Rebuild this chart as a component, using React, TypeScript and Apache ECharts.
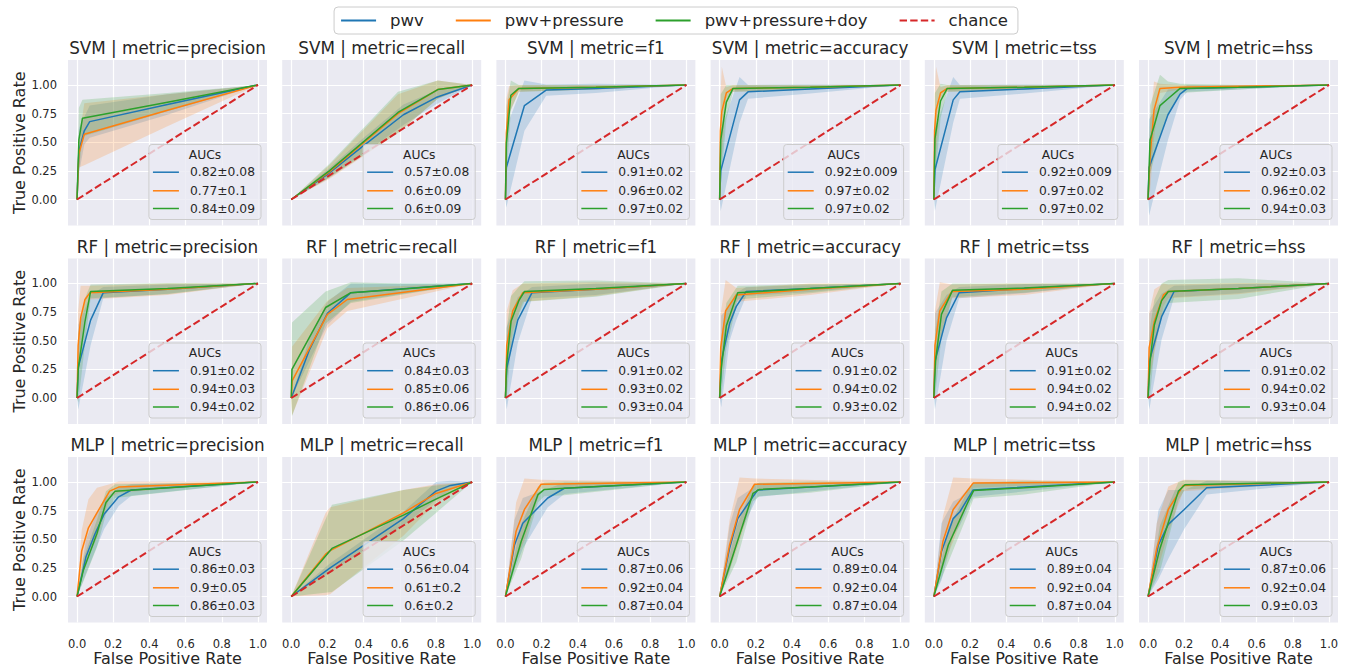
import React, { useEffect, useRef } from "react";
import * as echarts from "echarts";

// ---- labels ----
const models = ["SVM", "RF", "MLP"];
const metrics = ["precision", "recall", "f1", "accuracy", "tss", "hss"];
const featureSets = ["pwv", "pwv+pressure", "pwv+pressure+doy"];
const lineColors = ["#1f77b4", "#ff7f0e", "#2ca02c"];
const bandColors = ["rgba(31,119,180,0.2)", "rgba(255,127,14,0.2)", "rgba(44,160,44,0.2)"];
const chanceColor = "#d62728";
const xTicks = [0, 0.2, 0.4, 0.6, 0.8, 1.0];
const yTicks = [0, 0.25, 0.5, 0.75, 1.0];
const chanceLine = [[0, 0], [1, 1]];

// ---- mean ROC curves: [fpr, mean tpr, std] for pwv, pwv+pressure, pwv+pressure+doy ----
const svmPrecision = [
  [[0, 0, 0], [0.01, 0.42, 0.2], [0.04, 0.6, 0.12], [0.07, 0.68, 0.14], [0.5, 0.83, 0.09], [1, 1, 0]],
  [[0, 0, 0], [0.01, 0.4, 0.12], [0.04, 0.57, 0.27], [0.5, 0.78, 0.14], [1, 1, 0]],
  [[0, 0, 0], [0.01, 0.52, 0.28], [0.03, 0.71, 0.16], [0.5, 0.85, 0.08], [1, 1, 0]],
];
const svmRecall = [
  [[0, 0, 0], [0.2, 0.22, 0.04], [0.4, 0.47, 0.07], [0.62, 0.74, 0.09], [0.8, 0.89, 0.06], [1, 1, 0]],
  [[0, 0, 0], [0.21, 0.24, 0.06], [0.59, 0.75, 0.17], [0.81, 0.96, 0.08], [1, 1, 0]],
  [[0, 0, 0], [0.21, 0.25, 0.06], [0.59, 0.76, 0.18], [0.81, 0.96, 0.08], [1, 1, 0]],
];
const svmF1 = [
  [[0, 0, 0], [0.005, 0.28, 0.35], [0.105, 0.82, 0.22], [0.225, 0.955, 0.05], [0.5, 0.97, 0.04], [1, 1, 0]],
  [[0, 0, 0], [0.005, 0.58, 0.3], [0.02, 0.87, 0.12], [0.074, 0.97, 0.03], [0.5, 0.98, 0.02], [1, 1, 0]],
  [[0, 0, 0], [0.005, 0.49, 0.32], [0.03, 0.91, 0.13], [0.074, 0.97, 0.03], [0.5, 0.98, 0.02], [1, 1, 0]],
];
const svmAccuracy = [
  [[0, 0, 0], [0.006, 0.25, 0.35], [0.11, 0.87, 0.2], [0.157, 0.94, 0.06], [0.5, 0.965, 0.04], [1, 1, 0]],
  [[0, 0, 0], [0.004, 0.6, 0.3], [0.012, 0.77, 0.39], [0.037, 0.93, 0.05], [0.074, 0.97, 0.03], [0.5, 0.98, 0.02], [1, 1, 0]],
  [[0, 0, 0], [0.006, 0.52, 0.4], [0.037, 0.85, 0.15], [0.074, 0.97, 0.03], [0.5, 0.98, 0.02], [1, 1, 0]],
];
const svmTss = [
  [[0, 0, 0], [0.006, 0.26, 0.36], [0.107, 0.87, 0.2], [0.144, 0.94, 0.06], [0.5, 0.965, 0.04], [1, 1, 0]],
  [[0, 0, 0], [0.004, 0.6, 0.3], [0.012, 0.78, 0.38], [0.037, 0.93, 0.05], [0.074, 0.97, 0.03], [0.5, 0.98, 0.02], [1, 1, 0]],
  [[0, 0, 0], [0.006, 0.53, 0.4], [0.037, 0.86, 0.15], [0.074, 0.97, 0.03], [0.5, 0.98, 0.02], [1, 1, 0]],
];
const svmHss = [
  [[0, 0, 0], [0.006, 0.28, 0.42], [0.11, 0.74, 0.22], [0.177, 0.92, 0.05], [0.217, 0.97, 0.03], [0.5, 0.98, 0.02], [1, 1, 0]],
  [[0, 0, 0], [0.011, 0.37, 0.3], [0.033, 0.78, 0.25], [0.066, 0.97, 0.04], [0.177, 0.98, 0.02], [1, 1, 0]],
  [[0, 0, 0], [0.011, 0.52, 0.3], [0.066, 0.82, 0.27], [0.11, 0.88, 0.15], [0.177, 0.97, 0.04], [0.5, 0.98, 0.02], [1, 1, 0]],
];
const rfPrecision = [
  [[0, 0, 0], [0.007, 0.27, 0.37], [0.075, 0.68, 0.22], [0.145, 0.92, 0.05], [0.5, 0.95, 0.04], [1, 1, 0]],
  [[0, 0, 0], [0.006, 0.46, 0.3], [0.02, 0.7, 0.28], [0.044, 0.86, 0.12], [0.072, 0.92, 0.06], [0.5, 0.95, 0.05], [1, 1, 0]],
  [[0, 0, 0], [0.007, 0.26, 0.3], [0.044, 0.67, 0.2], [0.075, 0.93, 0.06], [0.5, 0.955, 0.05], [1, 1, 0]],
];
const rfRecall = [
  [[0, 0, 0], [0.1, 0.42, 0.1], [0.2, 0.74, 0.1], [0.33, 0.92, 0.08], [1, 1, 0]],
  [[0, 0, 0], [0.005, 0.15, 0.3], [0.2, 0.73, 0.12], [0.31, 0.86, 0.1], [1, 1, 0]],
  [[0, 0, 0], [0.004, 0.25, 0.41], [0.19, 0.79, 0.14], [0.33, 0.92, 0.09], [0.6, 0.95, 0.05], [1, 1, 0]],
];
const rfF1 = [
  [[0, 0, 0], [0.007, 0.26, 0.36], [0.068, 0.68, 0.2], [0.147, 0.92, 0.05], [0.5, 0.95, 0.05], [1, 1, 0]],
  [[0, 0, 0], [0.007, 0.46, 0.3], [0.04, 0.76, 0.18], [0.096, 0.92, 0.08], [0.5, 0.95, 0.06], [1, 1, 0]],
  [[0, 0, 0], [0.007, 0.3, 0.3], [0.031, 0.67, 0.22], [0.074, 0.85, 0.12], [0.105, 0.93, 0.09], [0.5, 0.955, 0.07], [1, 1, 0]],
];
const rfAccuracy = [
  [[0, 0, 0], [0.009, 0.32, 0.4], [0.055, 0.65, 0.15], [0.092, 0.8, 0.12], [0.147, 0.93, 0.04], [0.5, 0.955, 0.03], [1, 1, 0]],
  [[0, 0, 0], [0.006, 0.44, 0.3], [0.033, 0.76, 0.27], [0.092, 0.9, 0.06], [0.5, 0.95, 0.05], [1, 1, 0]],
  [[0, 0, 0], [0.009, 0.26, 0.25], [0.037, 0.63, 0.2], [0.1, 0.92, 0.06], [0.5, 0.955, 0.04], [1, 1, 0]],
];
const rfTss = [
  [[0, 0, 0], [0.006, 0.32, 0.42], [0.07, 0.7, 0.2], [0.14, 0.92, 0.05], [0.5, 0.955, 0.04], [1, 1, 0]],
  [[0, 0, 0], [0.006, 0.46, 0.3], [0.033, 0.76, 0.25], [0.1, 0.93, 0.06], [0.5, 0.95, 0.05], [1, 1, 0]],
  [[0, 0, 0], [0.009, 0.32, 0.28], [0.042, 0.73, 0.2], [0.103, 0.94, 0.06], [0.5, 0.96, 0.04], [1, 1, 0]],
];
const rfHss = [
  [[0, 0, 0], [0.007, 0.32, 0.42], [0.075, 0.71, 0.2], [0.144, 0.93, 0.05], [0.5, 0.955, 0.04], [1, 1, 0]],
  [[0, 0, 0], [0.006, 0.44, 0.3], [0.035, 0.67, 0.28], [0.085, 0.9, 0.1], [0.112, 0.93, 0.06], [0.5, 0.955, 0.05], [1, 1, 0]],
  [[0, 0, 0], [0.011, 0.32, 0.3], [0.035, 0.64, 0.22], [0.075, 0.85, 0.15], [0.112, 0.93, 0.1], [0.5, 0.955, 0.09], [1, 1, 0]],
];
const mlpPrecision = [
  [[0, 0, 0], [0.05, 0.35, 0.15], [0.1, 0.55, 0.15], [0.15, 0.72, 0.13], [0.23, 0.87, 0.08], [0.3, 0.93, 0.05], [1, 1, 0]],
  [[0, 0, 0], [0.026, 0.4, 0.18], [0.063, 0.6, 0.25], [0.11, 0.73, 0.22], [0.18, 0.92, 0.06], [0.23, 0.955, 0.05], [1, 1, 0]],
  [[0, 0, 0], [0.035, 0.23, 0.1], [0.11, 0.55, 0.12], [0.16, 0.82, 0.1], [0.21, 0.92, 0.06], [1, 1, 0]],
];
const mlpRecall = [
  [[0, 0, 0], [0.215, 0.25, 0.04], [0.62, 0.68, 0.06], [0.8, 0.92, 0.08], [0.88, 0.97, 0.04], [1, 1, 0]],
  [[0, 0, 0], [0.19, 0.37, 0.36], [0.215, 0.4, 0.38], [0.62, 0.73, 0.2], [0.8, 0.9, 0.08], [1, 1, 0]],
  [[0, 0, 0], [0.225, 0.42, 0.38], [0.62, 0.71, 0.22], [0.8, 0.85, 0.12], [1, 1, 0]],
];
const mlpF1 = [
  [[0, 0, 0], [0.05, 0.45, 0.22], [0.096, 0.64, 0.22], [0.234, 0.86, 0.08], [0.326, 0.945, 0.05], [1, 1, 0]],
  [[0, 0, 0], [0.059, 0.57, 0.25], [0.105, 0.76, 0.27], [0.197, 0.98, 0.04], [1, 1, 0]],
  [[0, 0, 0], [0.087, 0.48, 0.15], [0.18, 0.89, 0.07], [0.215, 0.935, 0.06], [0.326, 0.945, 0.06], [1, 1, 0]],
];
const mlpAccuracy = [
  [[0, 0, 0], [0.055, 0.42, 0.2], [0.1, 0.68, 0.18], [0.166, 0.83, 0.1], [0.21, 0.93, 0.06], [1, 1, 0]],
  [[0, 0, 0], [0.055, 0.45, 0.22], [0.11, 0.76, 0.28], [0.193, 0.98, 0.05], [1, 1, 0]],
  [[0, 0, 0], [0.092, 0.45, 0.15], [0.184, 0.9, 0.07], [0.22, 0.935, 0.06], [0.5, 0.955, 0.05], [1, 1, 0]],
];
const mlpTss = [
  [[0, 0, 0], [0.042, 0.39, 0.25], [0.107, 0.68, 0.15], [0.144, 0.74, 0.12], [0.217, 0.93, 0.06], [1, 1, 0]],
  [[0, 0, 0], [0.05, 0.48, 0.22], [0.107, 0.76, 0.28], [0.217, 0.99, 0.04], [1, 1, 0]],
  [[0, 0, 0], [0.08, 0.45, 0.15], [0.19, 0.83, 0.1], [0.22, 0.925, 0.07], [0.5, 0.95, 0.06], [1, 1, 0]],
];
const mlpHss = [
  [[0, 0, 0], [0.057, 0.45, 0.3], [0.112, 0.63, 0.3], [0.2, 0.76, 0.17], [0.324, 0.95, 0.06], [1, 1, 0]],
  [[0, 0, 0], [0.048, 0.42, 0.22], [0.112, 0.76, 0.2], [0.195, 0.97, 0.05], [1, 1, 0]],
  [[0, 0, 0], [0.066, 0.42, 0.2], [0.168, 0.92, 0.08], [0.204, 0.975, 0.04], [1, 1, 0]],
];

// ---- AUC legend labels (mean ± std) ----
const svmAucs = [
  ["0.82±0.08", "0.77±0.1", "0.84±0.09"],
  ["0.57±0.08", "0.6±0.09", "0.6±0.09"],
  ["0.91±0.02", "0.96±0.02", "0.97±0.02"],
  ["0.92±0.009", "0.97±0.02", "0.97±0.02"],
  ["0.92±0.009", "0.97±0.02", "0.97±0.02"],
  ["0.92±0.03", "0.96±0.02", "0.94±0.03"],
];
const rfAucs = [
  ["0.91±0.02", "0.94±0.03", "0.94±0.02"],
  ["0.84±0.03", "0.85±0.06", "0.86±0.06"],
  ["0.91±0.02", "0.93±0.02", "0.93±0.04"],
  ["0.91±0.02", "0.94±0.02", "0.93±0.02"],
  ["0.91±0.02", "0.94±0.02", "0.94±0.02"],
  ["0.91±0.02", "0.94±0.02", "0.93±0.04"],
];
const mlpAucs = [
  ["0.86±0.03", "0.9±0.05", "0.86±0.03"],
  ["0.56±0.04", "0.61±0.2", "0.6±0.2"],
  ["0.87±0.06", "0.92±0.04", "0.87±0.04"],
  ["0.89±0.04", "0.92±0.04", "0.87±0.04"],
  ["0.89±0.04", "0.92±0.04", "0.87±0.04"],
  ["0.87±0.06", "0.92±0.04", "0.9±0.03"],
];

const curveTable = [
  [svmPrecision, svmRecall, svmF1, svmAccuracy, svmTss, svmHss],
  [rfPrecision, rfRecall, rfF1, rfAccuracy, rfTss, rfHss],
  [mlpPrecision, mlpRecall, mlpF1, mlpAccuracy, mlpTss, mlpHss],
];
const aucTable = [svmAucs, rfAucs, mlpAucs];

// ---- layout ----
const W = 1348;
const H = 671;
const FONT = "'DejaVu Sans', Verdana, sans-serif";
const TEXT = "#262626";
const PLOT_W = 199;
const PLOT_H = 165.5;
const COL_LEFT = [68, 282.2, 496.4, 710.6, 924.8, 1139];
const ROW_TOP = [60, 258.5, 457];
const X_MIN = -0.05;
const X_MAX = 1.05;
const Y_MIN = -0.227;
const Y_MAX = 1.218;
const LEGEND_Z = 100;
const LEGEND_FONT = 12.3;

function measure(text: string, size: number): number {
  const ctx = document.createElement("canvas").getContext("2d");
  if (!ctx) return text.length * size * 0.6;
  ctx.font = `${size}px 'DejaVu Sans'`;
  return ctx.measureText(text).width;
}

function buildOption() {
  const grids: any[] = [];
  const xAxes: any[] = [];
  const yAxes: any[] = [];
  const titles: any[] = [];
  const lineSeries: any[] = [];
  const bandSeries: any[] = [];
  const graphics: any[] = [];

  models.forEach((model, r) => {
    metrics.forEach((metric, c) => {
      const idx = r * metrics.length + c;
      const left = COL_LEFT[c];
      const top = ROW_TOP[r];
      grids.push({
        left,
        top,
        width: PLOT_W,
        height: PLOT_H,
        show: true,
        backgroundColor: "#EAEAF2",
        borderWidth: 0,
        containLabel: false,
        outerBoundsMode: "none",
      });
      const lastRow = r === models.length - 1;
      xAxes.push({
        type: "value",
        gridIndex: idx,
        min: X_MIN,
        max: X_MAX,
        axisLine: { show: false },
        axisTick: { show: false },
        splitLine: { show: false },
        axisLabel: {
          show: lastRow,
          customValues: xTicks,
          formatter: (v: number) => v.toFixed(1),
          color: TEXT,
          fontSize: 11.5,
          fontFamily: FONT,
          margin: 15,
        },
        name: lastRow ? "False Positive Rate" : "",
        nameLocation: "middle",
        nameGap: 28,
        nameTextStyle: { color: TEXT, fontSize: 16, fontFamily: FONT },
      });
      const firstCol = c === 0;
      yAxes.push({
        type: "value",
        gridIndex: idx,
        min: Y_MIN,
        max: Y_MAX,
        axisLine: { show: false },
        axisTick: { show: false },
        splitLine: { show: false },
        axisLabel: {
          show: firstCol,
          customValues: yTicks,
          formatter: (v: number) => v.toFixed(2),
          color: TEXT,
          fontSize: 11.5,
          fontFamily: FONT,
          margin: 11,
        },
        name: firstCol ? "True Positive Rate" : "",
        nameLocation: "middle",
        nameGap: 40,
        nameTextStyle: { color: TEXT, fontSize: 16, fontFamily: FONT },
      });
      titles.push({
        text: `${model} | metric=${metric}`,
        left: left + PLOT_W / 2,
        top: top - 23,
        textAlign: "center",
        padding: 0,
        textStyle: { color: TEXT, fontSize: 16.8, fontWeight: "normal", fontFamily: FONT, lineHeight: 22 },
      });

      // white grid lines
      lineSeries.push({
        type: "line",
        xAxisIndex: idx,
        yAxisIndex: idx,
        data: [],
        silent: true,
        z: 1,
        markLine: {
          silent: true,
          symbol: ["none", "none"],
          z: 1,
          label: { show: false },
          emphasis: { disabled: true },
          lineStyle: { color: "#ffffff", width: 1.2, type: "solid" },
          data: [
            ...xTicks.map((v) => ({ xAxis: v })),
            ...yTicks.map((v) => ({ yAxis: v })),
          ],
        },
      });

      const curves = curveTable[r][c];
      curves.forEach((curve, k) => {
        lineSeries.push({
          type: "line",
          name: featureSets[k],
          xAxisIndex: idx,
          yAxisIndex: idx,
          data: curve.map((p) => [p[0], p[1]]),
          showSymbol: false,
          symbol: "none",
          z: 3,
          color: lineColors[k],
          lineStyle: { width: 1.5, color: lineColors[k] },
          emphasis: { disabled: true },
        });
        const fill = bandColors[k];
        bandSeries.push({
          type: "custom",
          name: featureSets[k],
          xAxisIndex: idx,
          yAxisIndex: idx,
          z: 2,
          silent: true,
          encode: { x: 0, y: [1, 2] },
          data: curve.map((p) => [p[0], p[1] - p[2], p[1] + p[2]]),
          renderItem: (params: any, api: any) => {
            if (params.dataIndexInside !== 0) return null;
            const n = params.dataInsideLength;
            const upper: number[][] = [];
            const lower: number[][] = [];
            for (let i = 0; i < n; i++) {
              const x = api.value(0, i);
              lower.push(api.coord([x, api.value(1, i)]));
              upper.push(api.coord([x, api.value(2, i)]));
            }
            return {
              type: "polygon",
              shape: { points: upper.concat(lower.reverse()) },
              style: { fill },
              silent: true,
            };
          },
        });
      });

      lineSeries.push({
        type: "line",
        name: "chance",
        xAxisIndex: idx,
        yAxisIndex: idx,
        data: chanceLine,
        showSymbol: false,
        symbol: "none",
        z: 4,
        color: chanceColor,
        lineStyle: { width: 2, color: chanceColor, type: [7.4, 3.2] },
        emphasis: { disabled: true },
      });

      // AUC legend box in the lower-right corner of the panel
      const labels = aucTable[r][c];
      const textW = Math.max(...labels.map((t) => measure(t, LEGEND_FONT)));
      const boxW = 41 + textW + 6;
      const boxH = 75;
      const bx = left + PLOT_W - 6 - boxW;
      const by = top + PLOT_H - 6 - boxH;
      graphics.push({
        type: "rect",
        z: LEGEND_Z,
        silent: true,
        shape: { x: bx, y: by, width: boxW, height: boxH, r: 3 },
        style: { fill: "rgba(234,234,242,0.8)", stroke: "#cccccc", lineWidth: 1 },
      });
      graphics.push({
        type: "text",
        z: LEGEND_Z + 1,
        silent: true,
        x: bx + boxW / 2,
        y: by + 10,
        style: { text: "AUCs", fill: TEXT, fontSize: LEGEND_FONT, fontFamily: FONT, align: "center", verticalAlign: "middle" },
      });
      const rowsY = [27.7, 46.3, 64];
      labels.forEach((t, k) => {
        graphics.push({
          type: "line",
          z: LEGEND_Z + 1,
          silent: true,
          shape: { x1: bx + 4, y1: by + rowsY[k], x2: bx + 30, y2: by + rowsY[k] },
          style: { stroke: lineColors[k], lineWidth: 1.5 },
        });
        graphics.push({
          type: "text",
          z: LEGEND_Z + 1,
          silent: true,
          x: bx + 41,
          y: by + rowsY[k],
          style: { text: t, fill: TEXT, fontSize: LEGEND_FONT, fontFamily: FONT, align: "left", verticalAlign: "middle" },
        });
      });
    });
  });

  return {
    animation: false,
    backgroundColor: "#ffffff",
    textStyle: { fontFamily: FONT },
    title: titles,
    legend: {
      data: ["pwv", "pwv+pressure", "pwv+pressure+doy", "chance"],
      left: "center",
      top: 7,
      orient: "horizontal",
      itemWidth: 35,
      itemHeight: 14,
      itemGap: 31,
      padding: [5, 10, 5, 6],
      backgroundColor: "rgba(255,255,255,0.8)",
      borderColor: "#cccccc",
      borderWidth: 1,
      borderRadius: 4,
      selectedMode: false,
      itemStyle: { opacity: 0 },
      textStyle: { color: TEXT, fontSize: 16.5, fontFamily: FONT, padding: [0, 0, 0, 9] },
    },
    grid: grids,
    xAxis: xAxes,
    yAxis: yAxes,
    series: [...lineSeries, ...bandSeries],
    graphic: graphics,
  };
}

export default function App() {
  const ref = useRef<HTMLDivElement>(null);
  useEffect(() => {
    if (!ref.current) return;
    const chart = echarts.init(ref.current, undefined, { renderer: "svg" });
    chart.setOption(buildOption() as any);
    return () => chart.dispose();
  }, []);
  return (
    <div
      ref={ref}
      style={{ position: "absolute", left: 0, top: 0, width: W, height: H, background: "#ffffff" }}
    />
  );
}
